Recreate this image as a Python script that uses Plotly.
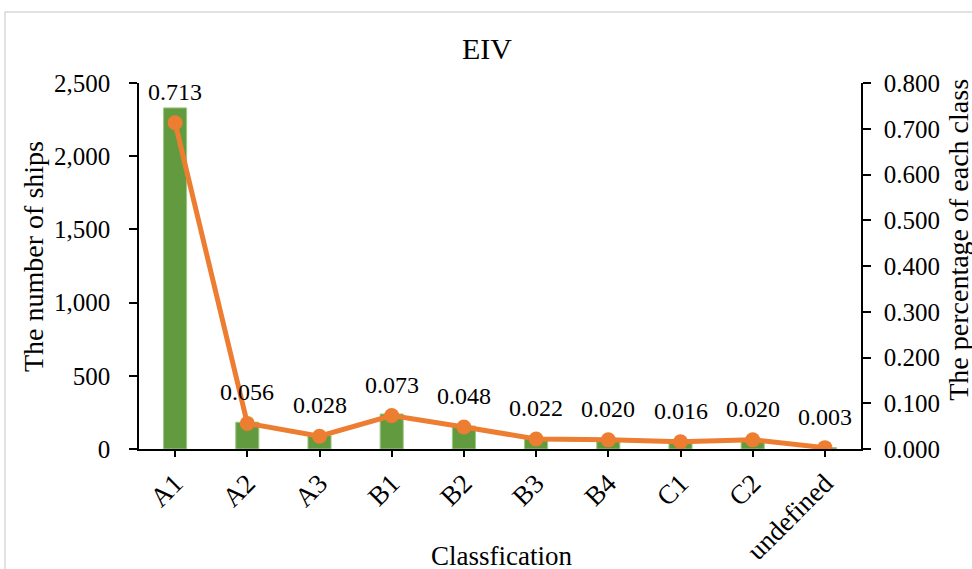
import plotly.graph_objects as go

categories = ["A1", "A2", "A3", "B1", "B2", "B3", "B4", "C1", "C2", "undefined"]
ship_counts = [2330, 183, 92, 239, 157, 72, 65, 52, 65, 10]
percentages = [0.713, 0.056, 0.028, 0.073, 0.048, 0.022, 0.020, 0.016, 0.020, 0.003]
left_ticks = [0, 500, 1000, 1500, 2000, 2500]
right_ticks = [0.0, 0.1, 0.2, 0.3, 0.4, 0.5, 0.6, 0.7, 0.8]

FONT = "Liberation Serif, Times New Roman, serif"
GREEN = "#629B3F"
ORANGE = "#ED7D31"

fig = go.Figure()
fig.add_trace(go.Bar(
    x=categories, y=ship_counts, yaxis="y",
    marker=dict(color=GREEN, line=dict(color="#9CC97F", width=1)),
    showlegend=False, hoverinfo="skip",
))
fig.add_trace(go.Scatter(
    x=categories, y=percentages, yaxis="y2", mode="lines+markers",
    line=dict(color=ORANGE, width=5),
    marker=dict(color=ORANGE, size=15),
    showlegend=False,
))

for c, p in zip(categories, percentages):
    fig.add_annotation(x=c, y=p, xref="x", yref="y2", text=f"{p:.3f}",
                       showarrow=False, yshift=31,
                       font=dict(family=FONT, size=24, color="black"))

# axis titles
fig.add_annotation(x=-0.147, y=0.527, xref="paper", yref="paper",
                   xanchor="center", yanchor="middle",
                   text="The number of ships", textangle=-90, showarrow=False,
                   font=dict(family=FONT, size=28, color="black"))
fig.add_annotation(x=1.134, y=0.571, xref="paper", yref="paper",
                   xanchor="center", yanchor="middle",
                   text="The percentage of each class", textangle=-90, showarrow=False,
                   font=dict(family=FONT, size=28, color="black"))
fig.add_annotation(x=0.502, y=-0.293, xref="paper", yref="paper",
                   xanchor="center", yanchor="middle",
                   text="Classfication", showarrow=False,
                   font=dict(family=FONT, size=27, color="black"))

# outer frame
fig.add_shape(type="rect", xref="paper", yref="paper",
              x0=-0.1856, x1=1.16, y0=-0.34, y1=1.194,
              line=dict(color="#D9D9D9", width=1.5), layer="below")

fig.update_layout(
    width=972, height=569,
    margin=dict(l=139, r=111, t=83, b=120),
    paper_bgcolor="white", plot_bgcolor="white",
    font=dict(family=FONT, size=25, color="black"),
    title=dict(text="EIV", x=0.501, xanchor="center", y=1 - 48 / 569,
               yanchor="middle", yref="container",
               font=dict(family=FONT, size=30, color="black")),
    bargap=0.68,
    xaxis=dict(
        range=[-0.5, 9.5], automargin=False,
        showline=True, linecolor="black", linewidth=1.5,
        ticks="outside", ticklen=6, tickcolor="black", tickwidth=1.5,
        tickangle=-45, showgrid=False,
        tickfont=dict(family=FONT, size=27),
    ),
    yaxis=dict(
        range=[0, 2500], tickvals=left_ticks, tickformat=",", automargin=False,
        showline=True, linecolor="black", linewidth=1.5,
        ticks="outside", ticklen=8, tickcolor="black", tickwidth=1.5,
        showgrid=False, zeroline=False, ticklabelstandoff=14,
        tickfont=dict(family=FONT, size=25),
    ),
    yaxis2=dict(
        range=[0, 0.8], tickvals=right_ticks, tickformat=".3f", automargin=False,
        overlaying="y", side="right",
        showline=True, linecolor="black", linewidth=1.5,
        ticks="outside", ticklen=8, tickcolor="black", tickwidth=1.5,
        showgrid=False, zeroline=False, ticklabelstandoff=8,
        tickfont=dict(family=FONT, size=25),
    ),
)

fig.write_html("out.html")
